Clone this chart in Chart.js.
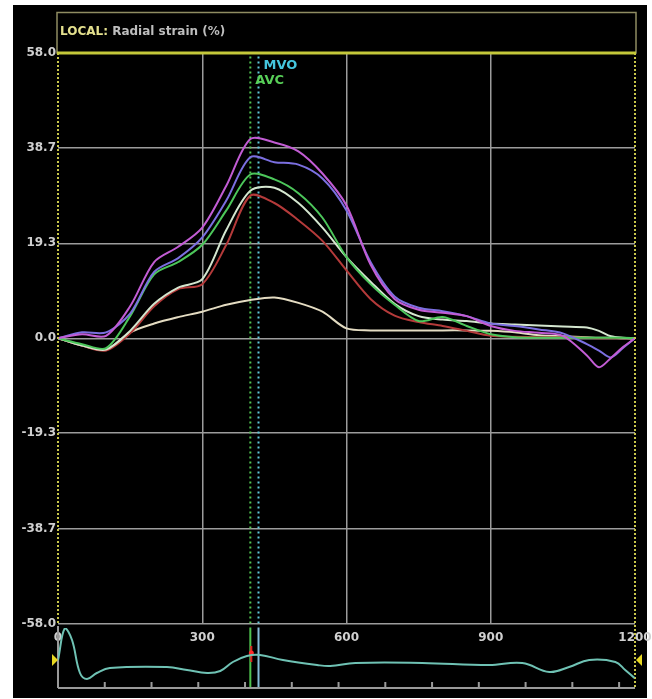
<!DOCTYPE html>
<html>
<head>
<meta charset="utf-8">
<script src="https://cdn.jsdelivr.net/npm/chart.js@4.4.0/dist/chart.umd.min.js"></script>
<style>
  html, body { margin: 0; padding: 0; background: #fff; }
  #wrap { position: relative; width: 652px; height: 699px; }
  #wrap canvas { position: absolute; left: 0; top: 0; }
</style>
</head>
<body>
<div id="wrap">
  <canvas id="strainChart" width="652" height="699"></canvas>
  <canvas id="ecgChart" width="652" height="699"></canvas>
</div>
<script>
// ========== data ==========

// time axis (ms)
const timeMs = [0, 50, 100, 150, 200, 250, 300, 350, 400, 450, 500, 550, 600, 650,
                700, 750, 800, 850, 900, 950, 1000, 1050, 1100, 1125, 1150, 1175, 1200];

// radial strain (%) per segment
const segMagenta = [0, 0.8, 0.5, 6.5, 15.5, 18.6, 22.5, 31, 40.5, 39.8, 38, 33.5, 27, 15,
                    8, 5.8, 5.2, 4.5, 2.5, 1.5, 1.1, 0.5, -3.5, -5.9, -4, -1.8, 0];
const segBlue    = [0, 1.2, 1.2, 5, 13.5, 16.3, 20.5, 28, 36.8, 35.8, 35.3, 32.5, 26, 15.5,
                    8.5, 6.2, 5.5, 4.5, 3, 2.5, 1.8, 1, -1.2, -2.5, -3.9, -2, 0];
const segGreen   = [0, -1.2, -2, 4.5, 13, 15.5, 19, 26, 33.3, 32.3, 29.5, 24.5, 16.5, 11,
                    6.8, 3.5, 4.3, 2.5, 0.8, 0.2, 0.1, 0.1, 0.1, 0.1, 0.1, 0.1, 0];
const segWhite   = [0, -1.5, -2.3, 1.5, 7, 10.3, 12, 22, 30, 30.6, 27.5, 22.5, 16.5, 11.5,
                    7, 4.5, 3.8, 3.5, 3, 2.8, 2.6, 2.4, 2.2, 1.5, 0.4, 0.1, 0];
const segRed     = [0, -1.5, -2.5, 1, 6.5, 10, 11, 19, 29, 27.5, 24, 19.8, 13.8, 8,
                    4.6, 3.3, 2.5, 1.5, 0.5, 0.3, 0.2, 0.2, 0.1, 0, 0, 0, 0];
const segBeige   = [0, -1.5, -2.3, 1.2, 3, 4.3, 5.4, 6.8, 7.8, 8.3, 7.2, 5.4, 2, 1.6,
                    1.6, 1.6, 1.6, 1.6, 1.5, 1.2, 0.6, 0.4, 0.2, 0.1, 0.1, 0, 0];

// axes
const yTickValues = [-58.0, -38.7, -19.3, 0.0, 19.3, 38.7, 58.0];
const xTickValues = [0, 300, 600, 900, 1200];

// valve events (ms)
const avcMs = 400;
const mvoMs = 417;

// ECG strip (own time base)
const ecgTimeMs = [0, 15, 30, 47, 62, 83, 111, 233, 276, 319, 347, 374, 404, 432,
                   481, 554, 582, 636, 779, 922, 993, 1051, 1093, 1136, 1192, 1213, 1233];
const ecgValues = [0.35, 1.95, 1.35, -0.3, -0.6, -0.3, -0.05, 0, -0.15, -0.3, -0.2, 0.25, 0.55, 0.6,
                   0.35, 0.1, 0.05, 0.2, 0.2, 0.1, 0.2, -0.25, 0, 0.35, 0.25, -0.15, -0.55];
const ecgTickValues = [100, 200, 300, 400, 500, 600, 700, 800, 900, 1000, 1100, 1200];

// ========== helpers ==========

const FONT = "'DejaVu Sans', Verdana, sans-serif";

function curve(label, values, color) {
    return {
        label,
        data: values.map((v, i) => ({ x: timeMs[i], y: v })),
        borderColor: color,
        borderWidth: 2,
        pointRadius: 0,
        tension: 0.3,
        fill: false
    };
}

function eventLine(label, ms, color) {
    return {
        label,
        data: [{ x: ms, y: yTickValues[0] }, { x: ms, y: yTickValues[yTickValues.length - 1] }],
        borderColor: color,
        borderWidth: 2,
        borderDash: [2, 3],
        pointRadius: 0
    };
}

// ========== frame / annotations of the strain plot ==========

const strainFrame = {
    id: 'strainFrame',
    beforeDraw(chart) {
        const c = chart.ctx;
        c.save();
        c.fillStyle = '#000';
        c.fillRect(13, 5, 634, 693);
        c.restore();
    },
    afterDraw(chart) {
        const c = chart.ctx;
        const { x, y } = chart.scales;
        const yTop = y.getPixelForValue(58);
        const yBot = y.getPixelForValue(-58);
        const xL = x.getPixelForValue(0);
        const xR = x.getPixelForValue(1200);
        c.save();

        // title box
        c.strokeStyle = '#8f8c62';
        c.lineWidth = 1.5;
        c.strokeRect(57, 12.5, 579, yTop - 12.5);

        // title
        c.font = 'bold 12px ' + FONT;
        c.textBaseline = 'middle';
        c.fillStyle = '#e4e08e';
        c.fillText('LOCAL:', 60, 32);
        const w = c.measureText('LOCAL:').width;
        c.fillStyle = '#bdbdbd';
        c.fillText(' Radial strain (%)', 60 + w, 32);

        // dotted side borders
        c.setLineDash([2, 2]);
        c.lineWidth = 2;
        c.strokeStyle = '#c8c64a';
        c.beginPath();
        c.moveTo(xL, yTop); c.lineTo(xL, yBot);
        c.moveTo(xR, yTop); c.lineTo(xR, 688);
        c.stroke();
        c.setLineDash([]);

        // top yellow line
        c.strokeStyle = '#c4c83a';
        c.lineWidth = 3;
        c.beginPath();
        c.moveTo(57, yTop); c.lineTo(636, yTop);
        c.stroke();

        // valve event lines through the ECG strip
        const avcX = x.getPixelForValue(avcMs);
        const mvoX = x.getPixelForValue(mvoMs);
        c.lineWidth = 2;
        c.strokeStyle = '#4fc24f';
        c.beginPath(); c.moveTo(avcX, yBot + 4); c.lineTo(avcX, 688); c.stroke();
        c.strokeStyle = '#86bcd8';
        c.beginPath(); c.moveTo(mvoX, yBot + 4); c.lineTo(mvoX, 688); c.stroke();

        // red cursor on the ECG
        c.strokeStyle = '#e02020';
        c.lineWidth = 2;
        c.beginPath(); c.moveTo(avcX + 1, 646); c.lineTo(avcX + 1, 662); c.stroke();
        c.fillStyle = '#ff2a2a';
        c.beginPath(); c.arc(avcX + 1, 653, 2.5, 0, Math.PI * 2); c.fill();

        // labels
        c.font = 'bold 13px ' + FONT;
        c.fillStyle = '#45c6de';
        c.fillText('MVO', mvoX + 5, 66);
        c.fillStyle = '#58cf58';
        c.fillText('AVC', avcX + 5, 81);

        c.restore();
    }
};

// ========== strain chart ==========

new Chart(document.getElementById('strainChart').getContext('2d'), {
    type: 'line',
    data: {
        datasets: [
            curve('Segment 1', segMagenta, '#c25cd4'),
            curve('Segment 2', segBlue, '#7b6fe0'),
            curve('Segment 3', segGreen, '#4cc65a'),
            curve('Segment 4', segWhite, '#d4e6cf'),
            curve('Segment 5', segRed, '#b43a3a'),
            curve('Segment 6', segBeige, '#e4dcc2'),
            eventLine('AVC', avcMs, '#52c452'),
            eventLine('MVO', mvoMs, '#5fc8dc')
        ]
    },
    options: {
        responsive: false,
        animation: false,
        layout: { padding: { top: 53, right: 17, left: 0, bottom: 0 } },
        plugins: { legend: { display: false }, tooltip: { enabled: false } },
        scales: {
            x: {
                type: 'linear',
                min: 0,
                max: 1200,
                afterBuildTicks: s => { s.ticks = xTickValues.map(v => ({ value: v })); },
                afterFit: s => { s.height = 75.5; s.paddingLeft = 0; s.paddingRight = 0; },
                border: { display: false },
                grid: {
                    drawTicks: false,
                    lineWidth: 1.5,
                    color: ctx => (ctx.tick && (ctx.tick.value === 0 || ctx.tick.value === 1200)) ? 'rgba(0,0,0,0)' : '#9c9c9c'
                },
                ticks: {
                    padding: 7,
                    color: '#d0d0d0',
                    font: { family: FONT, size: 12, weight: 'bold' },
                    maxRotation: 0,
                    autoSkip: false,
                    callback: v => String(v)
                }
            },
            y: {
                min: -58,
                max: 58,
                afterBuildTicks: s => { s.ticks = yTickValues.map(v => ({ value: v })); },
                afterFit: s => { s.width = 58; s.paddingTop = 0; s.paddingBottom = 0; },
                border: { display: false },
                grid: {
                    drawTicks: false,
                    lineWidth: 1.5,
                    color: ctx => (ctx.tick && ctx.tick.value === 58) ? 'rgba(0,0,0,0)' : '#9c9c9c'
                },
                ticks: {
                    padding: 2,
                    color: '#d0d0d0',
                    font: { family: FONT, size: 12, weight: 'bold' },
                    callback: v => Number(v).toFixed(1)
                }
            }
        }
    },
    plugins: [strainFrame]
});

// ========== ECG strip ==========

const ecgFrame = {
    id: 'ecgFrame',
    beforeDatasetsDraw(chart) {
        const c = chart.ctx;
        const a = chart.chartArea;
        const x = chart.scales.x;
        c.save();
        c.strokeStyle = '#9a9a9a';
        c.lineWidth = 2;
        c.beginPath();
        c.moveTo(a.left, a.bottom); c.lineTo(a.right, a.bottom);
        c.moveTo(a.left, a.top - 2); c.lineTo(a.left, a.bottom);
        ecgTickValues.forEach(v => {
            const px = x.getPixelForValue(v);
            c.moveTo(px, a.bottom); c.lineTo(px, a.bottom - 6);
        });
        c.stroke();

        // yellow range arrows
        const my = a.top + 32;
        c.fillStyle = '#e8d820';
        c.beginPath();
        c.moveTo(a.left - 6, my - 6); c.lineTo(a.left, my); c.lineTo(a.left - 6, my + 6); c.closePath();
        c.fill();
        c.beginPath();
        c.moveTo(a.right + 7, my - 6); c.lineTo(a.right + 1, my); c.lineTo(a.right + 7, my + 6); c.closePath();
        c.fill();
        c.restore();
    }
};

new Chart(document.getElementById('ecgChart').getContext('2d'), {
    type: 'line',
    data: {
        datasets: [{
            label: 'ECG',
            data: ecgTimeMs.map((t, i) => ({ x: t, y: ecgValues[i] })),
            borderColor: '#6fc2b4',
            borderWidth: 2,
            pointRadius: 0,
            tension: 0.4
        }]
    },
    options: {
        responsive: false,
        animation: false,
        layout: { padding: { top: 628, bottom: 11, left: 58, right: 17 } },
        plugins: { legend: { display: false }, tooltip: { enabled: false } },
        scales: {
            x: { type: 'linear', display: false, min: 0, max: 1234 },
            y: { display: false, min: -1.05, max: 1.95 }
        }
    },
    plugins: [ecgFrame]
});
</script>
</body>
</html>
